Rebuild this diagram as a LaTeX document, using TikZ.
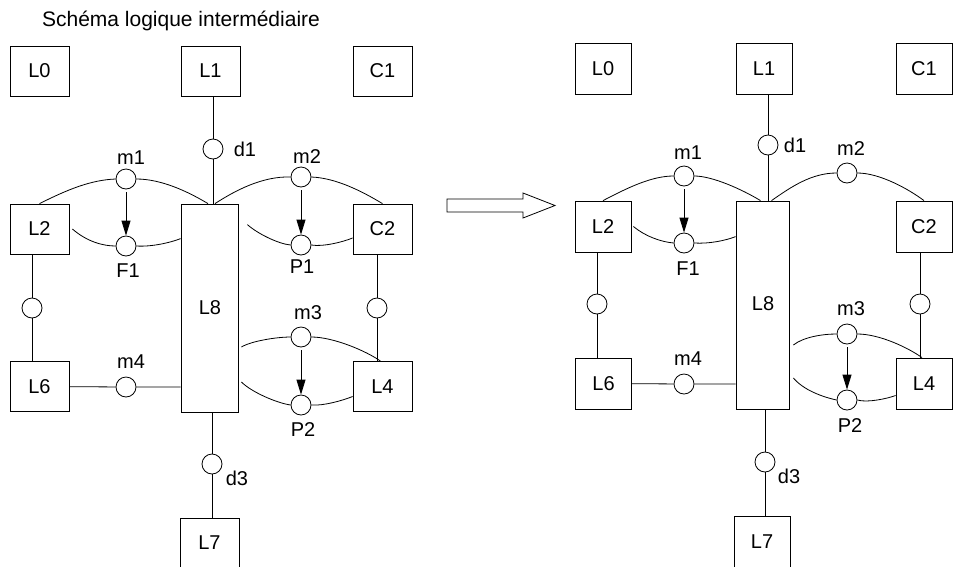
\documentclass[tikz,border=0pt]{standalone}
\usepackage{fontspec}
\setmainfont{Liberation Sans}
\usetikzlibrary{arrows.meta,positioning,calc}

\begin{document}
\begin{tikzpicture}[x=1pt, y=-1pt, line width=0.8pt,
    >={Triangle[length=15pt,width=9pt]},
    font=\fontsize{20}{24}\selectfont,
    box/.style={draw, minimum width=59pt, minimum height=50pt, inner sep=0pt},
    place/.style={draw, circle, minimum size=20pt, inner sep=0pt},
    lbl/.style={inner sep=0pt}]
  \useasboundingbox (0,0) rectangle (978,566);
  \clip (0,0) rectangle (978,566);

  %% Title
  \node[lbl, font=\fontsize{21}{25}\selectfont] (title) at (181,20.5)
    {Schéma logique intermédiaire};

  %% ---------------- Left schema ----------------
  %% Boxes
  \node[box] (L0) at (39.5,71) {L0};
  \node[box] (L1) at (210.5,71) {L1};
  \node[box] (C1) at (382.5,71) {C1};
  \node[box] (L2) at (39.5,229) {L2};
  \node[box] (C2) at (382.5,229) {C2};
  \node[box, minimum width=57pt, minimum height=208pt] (L8) at (209.5,308) {};
  \node[lbl] (tL8) at (210,308) {L8};
  \node[box] (L6) at (39.5,386.5) {L6};
  \node[box] (L4) at (382.5,386.5) {L4};
  \node[box] (L7) at (209.5,543) {L7};

  %% Places
  \node[place] (d1) at (213,149) {};
  \node[place] (m1) at (126,179) {};
  \node[place] (m2) at (301,177) {};
  \node[place] (F1) at (126,246) {};
  \node[place] (P1) at (301,245) {};
  \node[place] (q2) at (32,308) {};
  \node[place] (q4) at (377,308) {};
  \node[place] (m3) at (301,337) {};
  \node[place] (P2) at (301,405) {};
  \node[place] (m4) at (126,387) {};
  \node[place] (d3) at (212,464) {};

  %% Place labels
  \node[lbl] (td1) at (245,149) {d1};
  \node[lbl] (tm1) at (131,158) {m1};
  \node[lbl] (tm2) at (307,157) {m2};
  \node[lbl] (tF1) at (128,271) {F1};
  \node[lbl] (tP1) at (302,267) {P1};
  \node[lbl] (tm3) at (308,313) {m3};
  \node[lbl] (tm4) at (131,362) {m4};
  \node[lbl] (tP2) at (303,430) {P2};
  \node[lbl] (td3) at (237,478) {d3};

  %% Straight links
  \draw (d1 |- L1.south) -- (d1) -- (d1 |- L8.north);
  \draw (d3 |- L8.south) -- (d3) -- (d3 |- L7.north);
  \draw (q2 |- L2.south) -- (q2) -- (q2 |- L6.north);
  \draw (q4 |- C2.south) -- (q4) -- (q4 |- L4.north);
  \draw (L6) -- (m4) -- (m4 -| L8.west);

  %% Curved links
  \draw (L2.north) .. controls +(28,-14) and +(-25,1) .. (m1.west);
  \draw (m1.east) .. controls +(25,0) and +(-20,-12) .. ([xshift=-1.5pt]L8.north);
  \draw ([xshift=5.5pt]L8.north) .. controls +(20,-13) and +(-28,-1) .. (m2.west);
  \draw (m2.east) .. controls +(25,1) and +(-20,-12) .. (C2.north);
  \draw ([xshift=3pt]L2.east) .. controls +(15,13) and +(-12,0) .. (F1.west);
  \draw (F1.east) .. controls +(15,1) and +(-10,4) .. ([shift={(0,35)}]L8.north west);
  \draw ([shift={(9,21)}]L8.north east) .. controls +(10,9) and +(-12,-1) .. (P1.west);
  \draw (P1.east) .. controls +(12,2) and +(-10,4) .. ([shift={(0,9)}]C2.west);
  \draw ([shift={(3,39)}]L8.east) .. controls +(10,-6) and +(-14,0) .. (m3.west);
  \draw (m3.east) .. controls +(22,0) and +(-14,-10) .. ([xshift=-2pt]L4.north);
  \draw ([shift={(3,74)}]L8.east) .. controls +(10,10) and +(-14,-2) .. (P2.west);
  \draw (P2.east) .. controls +(12,1) and +(-10,4) .. ([shift={(0,10)}]L4.west);

  %% Arcs to transitions
  \draw[->, shorten <=3pt] (m1) -- (F1);
  \draw[->, shorten <=3pt] (m2) -- (P1);
  \draw[->, shorten <=3pt] (m3) -- (P2);

  %% Transformation arrow
  \draw (447,199) -- (523,199) -- (523,193) -- (555,205.5)
    -- (523,218) -- (523,212) -- (447,212) -- cycle;

  %% ---------------- Right schema ----------------
  \begin{scope}[box/.append style={minimum width=56pt, minimum height=51pt}]
  %% Boxes
  \node[box] (L0r) at (603,69) {L0};
  \node[box] (L1r) at (764,69) {L1};
  \node[box] (C1r) at (924,69) {C1};
  \node[box] (L2r) at (603,226.5) {L2};
  \node[box] (C2r) at (924,226.5) {C2};
  \node[box, minimum width=53pt, minimum height=208pt] (L8r) at (762.5,305) {};
  \node[lbl] (tL8r) at (763,304) {L8};
  \node[box] (L6r) at (603.5,383.5) {L6};
  \node[box] (L4r) at (924,383.5) {L4};
  \node[box] (L7r) at (762,541.5) {L7};

  %% Places
  \node[place] (d1r) at (768,145) {};
  \node[place] (m1r) at (684,176) {};
  \node[place] (m2r) at (847,173) {};
  \node[place] (F1r) at (684,243) {};
  \node[place] (q2r) at (597,304) {};
  \node[place] (q4r) at (920,304) {};
  \node[place] (m3r) at (847,334) {};
  \node[place] (P2r) at (847,400) {};
  \node[place] (m4r) at (684,384) {};
  \node[place] (d3r) at (765,462) {};

  %% Place labels
  \node[lbl] (td1r) at (795,145) {d1};
  \node[lbl] (tm1r) at (688,153) {m1};
  \node[lbl] (tm2r) at (851,149) {m2};
  \node[lbl] (tF1r) at (688,269) {F1};
  \node[lbl] (tm3r) at (851,309) {m3};
  \node[lbl] (tm4r) at (688,359) {m4};
  \node[lbl] (tP2r) at (850,426) {P2};
  \node[lbl] (td3r) at (789,476) {d3};

  %% Straight links
  \draw (d1r |- L1r.south) -- (d1r) -- (d1r |- L8r.north);
  \draw (d3r |- L8r.south) -- (d3r) -- (d3r |- L7r.north);
  \draw (q2r |- L2r.south) -- (q2r) -- (q2r |- L6r.north);
  \draw (q4r |- C2r.south) -- (q4r) -- (q4r |- L4r.north);
  \draw (L6r) -- (m4r) -- (m4r -| L8r.west);

  %% Curved links
  \draw (L2r.north) .. controls +(25,-13) and +(-22,0) .. (m1r.west);
  \draw (m1r.east) .. controls +(18,0) and +(-18,-11) .. ([xshift=-2pt]L8r.north);
  \draw ([xshift=9pt]L8r.north) .. controls +(20,-14) and +(-25,0) .. (m2r.west);
  \draw (m2r.east) .. controls +(22,0) and +(-16,-12) .. (C2r.north);
  \draw ([xshift=2pt]L2r.east) .. controls +(12,10) and +(-12,-1) .. (F1r.west);
  \draw (F1r.east) .. controls +(14,1) and +(-10,4) .. ([shift={(0,36)}]L8r.north west);
  \draw ([shift={(4,40)}]L8r.east) .. controls +(10,-8) and +(-14,0) .. (m3r.west);
  \draw (m3r.east) .. controls +(22,0) and +(-14,-10) .. ([xshift=-2pt]L4r.north);
  \draw ([shift={(4,73)}]L8r.east) .. controls +(10,12) and +(-14,-3) .. (P2r.west);
  \draw (P2r.east) .. controls +(10,3) and +(-8,3) .. ([shift={(0,12)}]L4r.west);

  %% Arcs to transitions
  \draw[->, shorten <=3pt] (m1r) -- (F1r);
  \draw[->, shorten <=3pt] (m3r) -- (P2r);
  \end{scope}
\end{tikzpicture}
\end{document}
